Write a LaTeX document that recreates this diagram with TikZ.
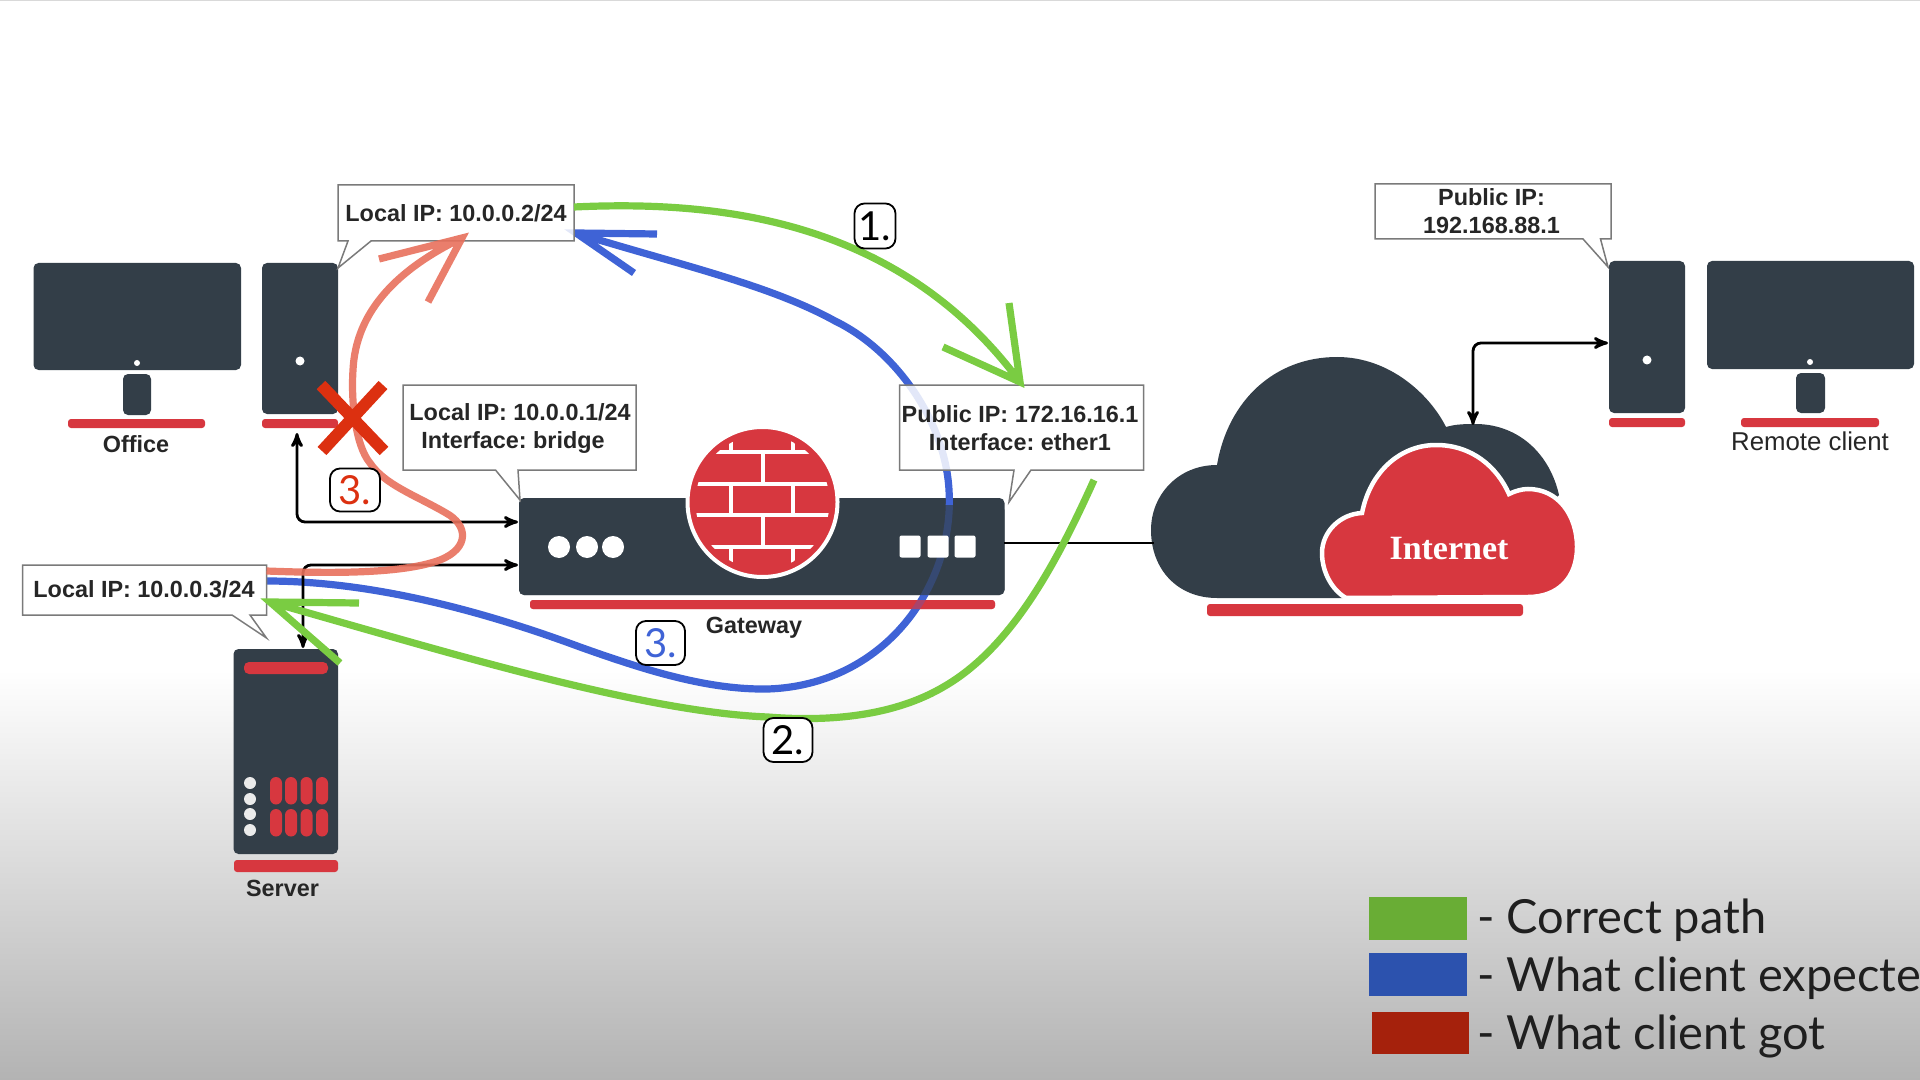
\documentclass[tikz,border=0pt]{standalone}
\usepackage{fontspec}
\setmainfont{Liberation Sans}
\newfontfamily\inetfont{Liberation Serif}
\newfontfamily\legendfont{Lato}
\usetikzlibrary{arrows}
\frenchspacing

\definecolor{slate}{HTML}{333E48}
\definecolor{brick}{HTML}{D7373F}
\definecolor{pathgreen}{HTML}{7ACC42}
\definecolor{pathblue}{HTML}{3F63D6}
\definecolor{pathred}{HTML}{E8705C}
\definecolor{crossred}{HTML}{DC3010}
\definecolor{tipgrey}{HTML}{7A7A7A}
\definecolor{floorgrey}{HTML}{B3B3B3}
\definecolor{keygreen}{HTML}{69AD35}
\definecolor{keyblue}{HTML}{2C52AE}
\definecolor{keyred}{HTML}{A5210C}

\begin{document}
\begin{tikzpicture}[x=0.5pt, y=-0.5pt, >=stealth']
    \tikzstyle{device} = [fill=slate, inner sep=0pt, rounded corners=2.5pt]
    \tikzstyle{redbar} = [fill=brick, rounded corners=1.5pt]
    \tikzstyle{callout} = [fill=white, fill opacity=0.85, draw=tipgrey, line width=0.75pt]
    \tikzstyle{iptext} = [inner sep=0pt, text=black!85, align=center, font=\fontsize{11.7}{14}\selectfont\bfseries]
    \tikzstyle{devname} = [inner sep=0pt, text=black!85, font=\fontsize{11.7}{14}\selectfont\bfseries]
    \tikzstyle{link} = [draw=black, line width=1.4pt, rounded corners=4pt, <->]
    \tikzstyle{pathline} = [line width=3.6pt]
    \tikzstyle{numbox} = [draw=black, line width=0.9pt, fill=white, rounded corners=5pt, inner sep=0pt, font=\fontsize{20}{20}\selectfont\legendfont]
    \tikzstyle{legendtext} = [anchor=base west, inner sep=0pt, text=black!88, font=\fontsize{23.5}{24}\selectfont\legendfont]

    % backdrop
    \path [use as bounding box] (0,0) rectangle (1920,1080);
    \shade [top color=white, bottom color=floorgrey] (0,670) rectangle (1920,1080);
    \fill [black!15] (0,0) rectangle (1920,1);

    % named ends of the connectors
    \coordinate (bluefrom) at (266.5,581);
    \coordinate (blueto) at (576,233);
    \coordinate (greenfrom) at (574,207);
    \coordinate (greento) at (1020,382);
    \coordinate (backfrom) at (1094,480);
    \coordinate (backto) at (270,602);
    \coordinate (redfrom) at (266.5,571);
    \coordinate (redto) at (462,238);
    \coordinate (officeport) at (297,433);
    \coordinate (serverport) at (303,648);
    \coordinate (gwporta) at (518,522);
    \coordinate (gwportb) at (518,565);
    \coordinate (gwout) at (1004,543);
    \coordinate (cloudin) at (1154,543);
    \coordinate (cloudtop) at (1473,425);
    \coordinate (remoteport) at (1608,343);

    % gateway, with the blue path dimmed where it runs behind
    \fill [device] (519,498) rectangle (1004.5,595);
    \fill [redbar] (530,600) rectangle (995,609);
    \draw [pathline, pathblue] (bluefrom) .. controls (370,581) and (480,610) .. (580,647)
        .. controls (650,672) and (710,690) .. (768,689)
        .. controls (885,685) and (955,585) .. (949,490)
        .. controls (945,420) and (895,350) .. (835,321)
        .. controls (770,285) and (680,265) .. (blueto)
        (657,234) -- (blueto) -- (634,273);
    \fill [device, fill opacity=0.7] (519,505) rectangle (1004.5,595);
    \fill [redbar, fill opacity=0.7] (530,600) rectangle (995,609);
    \node [devname] (gatewayname) at (754,628) {Gateway};
    \foreach \x in {559,587,613}
        \fill [white] (\x,547) circle (11);
    \foreach \x in {899.5,927.5,954.5}
        \fill [white, rounded corners=1pt] (\x,535.5) rectangle ++(21,22);
    \node [circle, fill=brick, draw=white, line width=2pt, inner sep=0pt, minimum size=75pt] (firewall) at (762.5,502) {};
    \begin{scope}
        \clip (firewall.center) circle (67);
        \foreach \y in {452,484,514.5,547}
            \draw [white, line width=2pt] (680,\y) -- (845,\y);
        \foreach \x/\ya/\yb in {731/430/452,793/430/452,763/452/484,731/484/514.5,793/484/514.5,763/514.5/547,731/547/575,793/547/575}
            \draw [white, line width=2pt] (\x,\ya) -- (\x,\yb);
    \end{scope}

    % office
    \fill [device] (33.5,263) rectangle (241,370);
    \fill [device] (123,374) rectangle (151,415);
    \fill [white] (137,363) circle (3);
    \fill [redbar] (68,419) rectangle (205,428);
    \node [devname] (officename) at (136,444) {Office};
    \fill [device] (262,263) rectangle (338,414);
    \fill [white] (300,361) circle (4.5);
    \fill [redbar] (262,419) rectangle (338,428);

    % internet
    \fill [slate] (1217,598) .. controls (1178,598) and (1151,570) .. (1151,530)
        .. controls (1151,495) and (1178,465) .. (1217,465)
        .. controls (1228,400) and (1275,357) .. (1337,357)
        .. controls (1390,357) and (1430,395) .. (1446,427)
        .. controls (1456,424) and (1466,424) .. (1477,424)
        .. controls (1520,425) and (1550,455) .. (1559,495)
        -- (1500,560) -- (1400,598) -- cycle;
    \filldraw [fill=brick, draw=white, line width=2.25pt] (1346,598)
        .. controls (1332,590) and (1322,572) .. (1322,553)
        .. controls (1322,532) and (1340,514) .. (1362,513)
        .. controls (1370,472) and (1400,445) .. (1436,445)
        .. controls (1472,445) and (1497,467) .. (1509,494)
        .. controls (1515,491) and (1522,489) .. (1528,489)
        .. controls (1558,489) and (1577,515) .. (1577,547)
        .. controls (1577,578) and (1558,597) .. (1528,597) -- cycle;
    \fill [redbar] (1207,604) rectangle (1523,616);
    \node [text=white, inner sep=0pt, font=\fontsize{17}{18}\selectfont\inetfont\bfseries] (inet) at (1449,549) {Internet};

    % server
    \fill [device] (233.5,649) rectangle (338,854);
    \fill [brick, rounded corners=2.5pt] (244,662) rectangle (328,674);
    \foreach \y in {783,799,814,830}
        \fill [white!92!black] (250,\y) circle (6);
    \foreach \x in {270,285,300.5,316} {
        \fill [brick, rounded corners=3pt] (\x,777) rectangle ++(12,27.5);
        \fill [brick, rounded corners=3pt] (\x,809) rectangle ++(12,27.5);
    }
    \fill [redbar] (234,860) rectangle (338,872);
    \node [devname] (servername) at (282.5,888) {Server};

    % remote client
    \fill [device] (1609,261) rectangle (1685,413);
    \fill [white] (1647,360) circle (4.5);
    \fill [redbar] (1609,418) rectangle (1685,427);
    \fill [device] (1707,261) rectangle (1914,369);
    \fill [device] (1796,373) rectangle (1825,413);
    \fill [white] (1810,362) circle (3);
    \fill [redbar] (1741,418) rectangle (1879,427);
    \node [devname, font=\fontsize{12.9}{14}\selectfont] (remotename) at (1810,441) {Remote client};

    % callouts
    \draw [callout] (338,185) -- (574,185) -- (574,241) -- (371,241) -- (338,268) -- (348,241) -- (338,241) -- cycle;
    \node [iptext] (lantwo) at (456,213) {Local IP: 10.0.0.2/24};
    \draw [callout] (403,385) -- (636,385) -- (636,470) -- (518,470) -- (520,500) -- (495.5,470) -- (403,470) -- cycle;
    \node [iptext] (lanone) at (520,429) {Local IP: 10.0.0.1/24\\Interface: bridge\hspace*{7pt}};
    \draw [callout] (899.5,385) -- (1143.5,385) -- (1143.5,470) -- (1031,470) -- (1009,502) -- (1014,470) -- (899.5,470) -- cycle;
    \node [iptext] (wanone) at (1020,428) {Public IP: 172.16.16.1\\Interface: ether1};
    \draw [callout] (22.5,565) -- (266.5,565) -- (266.5,615) -- (250,615) -- (266.5,638) -- (232,615) -- (22.5,615) -- cycle;
    \node [iptext] (lanthree) at (144,589) {Local IP: 10.0.0.3/24};
    \draw [callout] (1375,184) -- (1611,184) -- (1611,239) -- (1600.5,239) -- (1608,267) -- (1583,239) -- (1375,239) -- cycle;
    \node [iptext] (wantwo) at (1491.5,211) {Public IP:\\192.168.88.1};

    % wires
    \draw [link] (officeport) |- (gwporta);
    \draw [link] (serverport) |- (gwportb);
    \draw [link] (remoteport) -| (cloudtop);
    \draw [draw=black, line width=1.4pt] (gwout) -- (cloudin);

    % what the client got
    \draw [pathline, pathred, opacity=0.9] (redfrom) .. controls (320,573) and (400,575) .. (440,560)
        .. controls (470,548) and (468,525) .. (446,513)
        .. controls (415,495) and (385,485) .. (370,463)
        .. controls (355,445) and (351,400) .. (353,370)
        .. controls (355,330) and (375,280) .. (redto)
        (379,259) -- (redto) -- (428,302);
    \draw [crossred, line width=6pt] (321,385) -- (384,451) (383,385) -- (322,451);

    % correct path
    \draw [pathline, pathgreen] (greenfrom) .. controls (720,200) and (900,220) .. (greento)
        (1009,303) -- (greento) -- (943,347);
    \draw [pathline, pathgreen] (backfrom) .. controls (1060,555) and (1015,645) .. (945,686)
        .. controls (895,716) and (830,722) .. (768,717)
        .. controls (640,712) and (440,650) .. (backto)
        (359,603) -- (backto) -- (340,663);

    % step numbers
    \node [numbox, minimum width=20.5pt, minimum height=22.5pt] (stepone) at (875,226) {1.};
    \node [numbox, minimum width=24.5pt, minimum height=22pt] (steptwo) at (788,740) {2.};
    \node [numbox, minimum width=24.5pt, minimum height=22pt, text=pathblue] (stepblue) at (660.5,643) {3.};
    \node [numbox, minimum width=25pt, minimum height=21.5pt, text=crossred] (stepred) at (355,490) {3.};

    % legend
    \fill [keygreen] (1369,897) rectangle (1466.5,940);
    \fill [keyblue] (1369,953) rectangle (1466.5,996);
    \fill [keyred] (1371.5,1012) rectangle (1468.5,1054);
    \node [legendtext] (legendgreen) at (1477,933) {- Correct path};
    \node [legendtext] (legendblue) at (1477,991) {- What client expecte};
    \node [legendtext] (legendred) at (1477,1049) {- What client got};
\end{tikzpicture}
\end{document}
